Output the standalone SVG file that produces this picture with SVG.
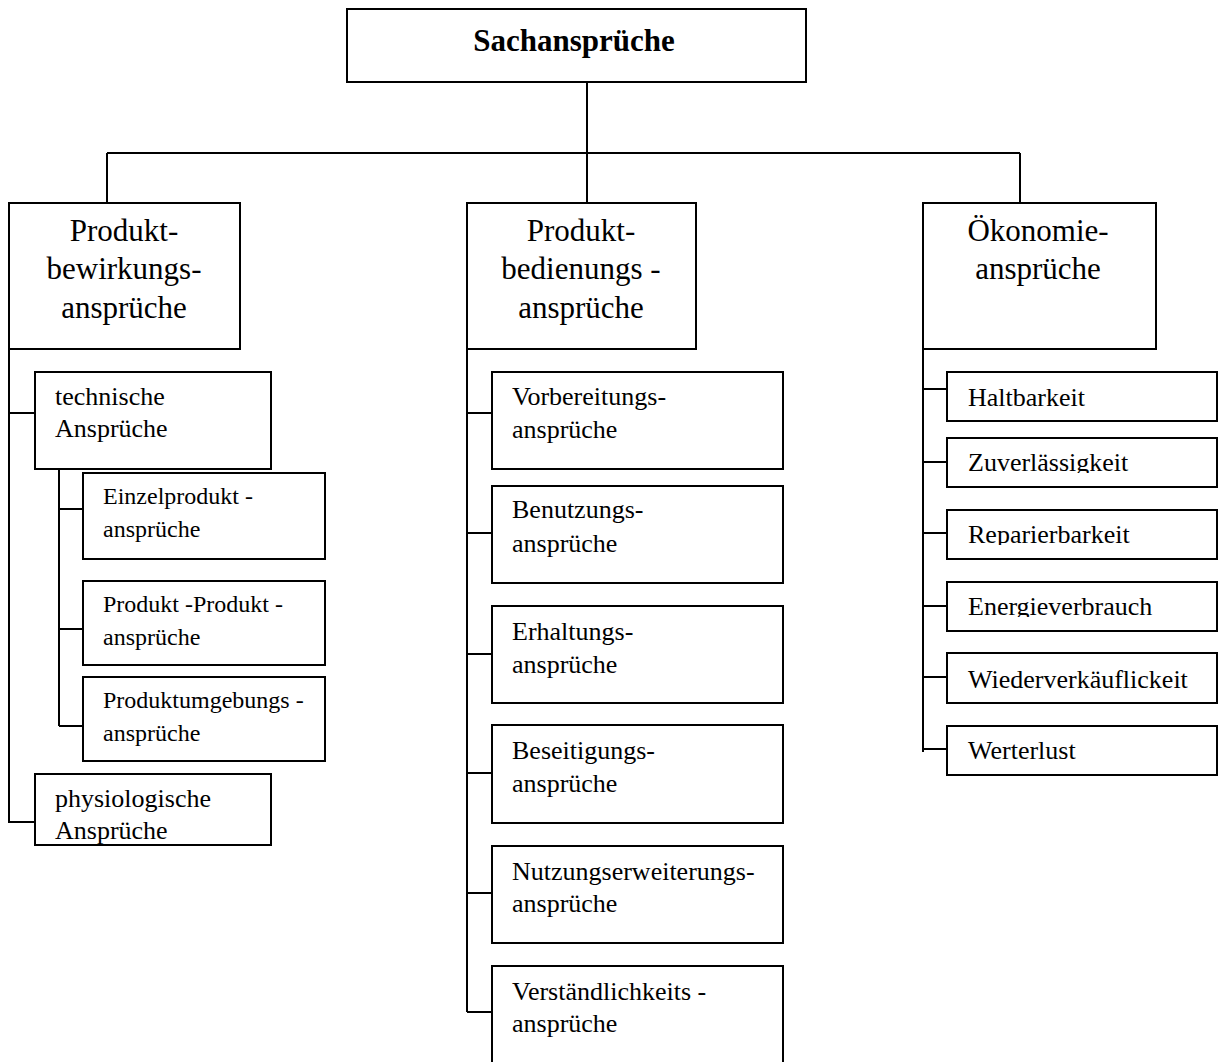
<svg xmlns="http://www.w3.org/2000/svg" width="1220" height="1062" viewBox="0 0 1220 1062">
<style>
  .box { fill: #ffffff; stroke: #000000; stroke-width: 2; }
  .ln { fill: none; stroke: #000000; stroke-width: 2; }
  text { font-family: "Liberation Serif", "Times New Roman", serif; fill: #000000; }
  .t0 { font-size: 31px; font-weight: bold; text-anchor: middle; }
  .t1 { font-size: 31px; text-anchor: middle; }
  .t2 { font-size: 26px; }
  .t3 { font-size: 24px; }
</style>
<defs>
  <clipPath id="cZ"><rect x="947" y="438" width="270" height="35"/></clipPath>
  <clipPath id="cR"><rect x="947" y="510" width="270" height="35"/></clipPath>
  <clipPath id="cE"><rect x="947" y="582" width="270" height="35"/></clipPath>
</defs>
<rect width="1220" height="1062" fill="#ffffff"/>
<g id="connectors">
  <path class="ln" d="M587 82 V153 M107 153 H1020 M107 153 V203 M587 153 V203 M1020 153 V203"/>
  <path class="ln" d="M9 349 V823 M9 413 H35 M9 822 H35"/>
  <path class="ln" d="M59 462 V726 M59 509 H83 M59 629 H83 M59 726 H83"/>
  <path class="ln" d="M467 349 V1012 M467 413 H492 M467 533 H492 M467 654 H492 M467 773 H492 M467 893 H492 M467 1012 H492"/>
  <path class="ln" d="M923 349 V752 M923 389 H947 M923 462 H947 M923 533 H947 M923 606 H947 M923 677 H947 M923 749 H947"/>
</g>
<g id="n-sachansprueche">
  <rect class="box" x="347" y="9" width="459" height="73"/>
  <text class="t0" x="574" y="51">Sachansprüche</text>
</g>
<g id="n-bewirkung">
  <rect class="box" x="9" y="203" width="231" height="146"/>
  <text class="t1" x="124" y="241">Produkt-</text>
  <text class="t1" x="124" y="279">bewirkungs-</text>
  <text class="t1" x="124" y="318">ansprüche</text>
</g>
<g id="n-bedienung">
  <rect class="box" x="467" y="203" width="229" height="146"/>
  <text class="t1" x="581" y="241">Produkt-</text>
  <text class="t1" x="581" y="279">bedienungs -</text>
  <text class="t1" x="581" y="318">ansprüche</text>
</g>
<g id="n-oekonomie">
  <rect class="box" x="923" y="203" width="233" height="146"/>
  <text class="t1" x="1038" y="241">Ökonomie-</text>
  <text class="t1" x="1038" y="279">ansprüche</text>
</g>
<g id="n-technisch">
  <rect class="box" x="35" y="372" width="236" height="97"/>
  <text class="t2" x="55" y="405">technische</text>
  <text class="t2" x="55" y="437">Ansprüche</text>
</g>
<g id="n-einzel">
  <rect class="box" x="83" y="473" width="242" height="86"/>
  <text class="t3" x="103" y="504">Einzelprodukt -</text>
  <text class="t3" x="103" y="537">ansprüche</text>
</g>
<g id="n-prodprod">
  <rect class="box" x="83" y="581" width="242" height="84"/>
  <text class="t3" x="103" y="612">Produkt -Produkt -</text>
  <text class="t3" x="103" y="645">ansprüche</text>
</g>
<g id="n-umgebung">
  <rect class="box" x="83" y="677" width="242" height="84"/>
  <text class="t3" x="103" y="708">Produktumgebungs -</text>
  <text class="t3" x="103" y="741">ansprüche</text>
</g>
<g id="n-physio">
  <rect class="box" x="35" y="774" width="236" height="71"/>
  <text class="t2" x="55" y="807">physiologische</text>
  <text class="t2" x="55" y="839">Ansprüche</text>
</g>
<g id="n-vorbereitung">
  <rect class="box" x="492" y="372" width="291" height="97"/>
  <text class="t2" x="512" y="405">Vorbereitungs-</text>
  <text class="t2" x="512" y="438">ansprüche</text>
</g>
<g id="n-benutzung">
  <rect class="box" x="492" y="486" width="291" height="97"/>
  <text class="t2" x="512" y="518">Benutzungs-</text>
  <text class="t2" x="512" y="552">ansprüche</text>
</g>
<g id="n-erhaltung">
  <rect class="box" x="492" y="606" width="291" height="97"/>
  <text class="t2" x="512" y="640">Erhaltungs-</text>
  <text class="t2" x="512" y="673">ansprüche</text>
</g>
<g id="n-beseitigung">
  <rect class="box" x="492" y="725" width="291" height="98"/>
  <text class="t2" x="512" y="759">Beseitigungs-</text>
  <text class="t2" x="512" y="792">ansprüche</text>
</g>
<g id="n-nutzung">
  <rect class="box" x="492" y="846" width="291" height="97"/>
  <text class="t2" x="512" y="880">Nutzungserweiterungs-</text>
  <text class="t2" x="512" y="912">ansprüche</text>
</g>
<g id="n-verstaendlich">
  <rect class="box" x="492" y="966" width="291" height="110"/>
  <text class="t2" x="512" y="1000">Verständlichkeits -</text>
  <text class="t2" x="512" y="1032">ansprüche</text>
</g>
<g id="n-haltbarkeit">
  <rect class="box" x="947" y="372" width="270" height="49"/>
  <text class="t2" x="968" y="406">Haltbarkeit</text>
</g>
<g id="n-zuverlaessigkeit">
  <rect class="box" x="947" y="438" width="270" height="49"/>
  <text class="t2" x="968" y="471" clip-path="url(#cZ)">Zuverlässigkeit</text>
</g>
<g id="n-reparierbarkeit">
  <rect class="box" x="947" y="510" width="270" height="49"/>
  <text class="t2" x="968" y="543" clip-path="url(#cR)">Reparierbarkeit</text>
</g>
<g id="n-energie">
  <rect class="box" x="947" y="582" width="270" height="49"/>
  <text class="t2" x="968" y="615" clip-path="url(#cE)">Energieverbrauch</text>
</g>
<g id="n-wiederverkauf">
  <rect class="box" x="947" y="653" width="270" height="50"/>
  <text class="t2" x="968" y="688">Wiederverkäuflickeit</text>
</g>
<g id="n-werterlust">
  <rect class="box" x="947" y="726" width="270" height="49"/>
  <text class="t2" x="968" y="759">Werterlust</text>
</g>
</svg>
